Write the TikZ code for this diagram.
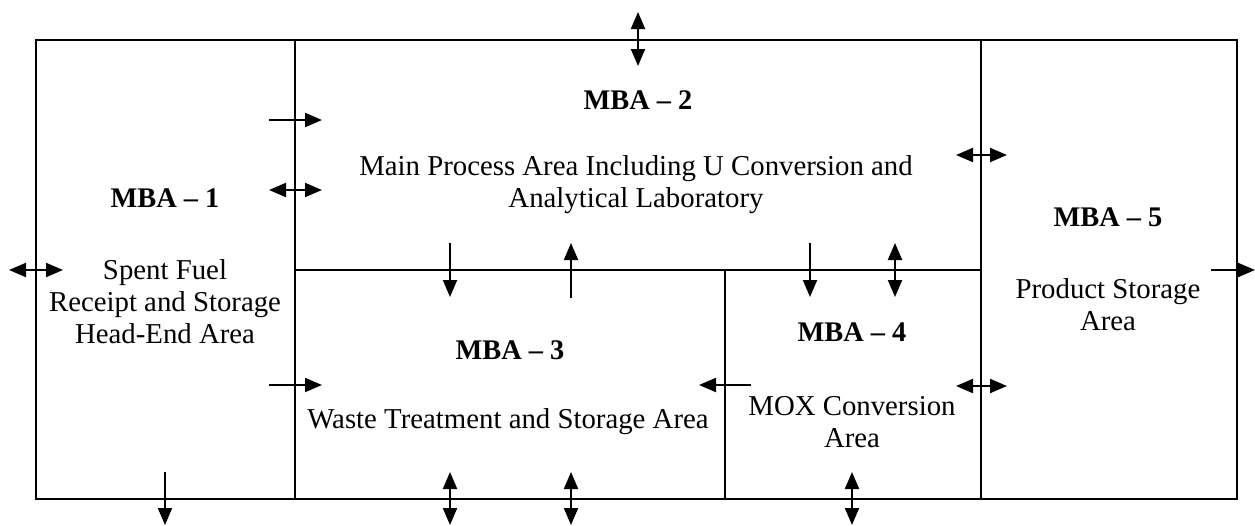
\documentclass[tikz,border=0pt]{standalone}
\usepackage{fontspec}
\setmainfont{Liberation Serif}
\usetikzlibrary{arrows.meta}
\begin{document}
\begin{tikzpicture}[x=1pt,y=-1pt,
  wall/.style={line width=2.2pt, line cap=rect},
  flow/.style={line width=2pt, -{Triangle[length=17pt,width=14pt]}},
  flow2/.style={line width=2pt, {Triangle[length=17pt,width=14pt]}-{Triangle[length=17pt,width=14pt]}},
  lbl/.style={inner sep=0pt, align=center, font=\fontsize{28.8}{32}\selectfont},
  ttl/.style={inner sep=0pt, font=\fontsize{28.4}{32}\selectfont\bfseries}]
\useasboundingbox (0,0) rectangle (1255,525);
% walls
\draw[wall] (36,40) rectangle (1237,499);
\draw[wall] (295,40) -- (295,499);
\draw[wall] (981,40) -- (981,499);
\draw[wall] (295,270) -- (981,270);
\draw[wall] (725,270) -- (725,499);
% texts
\node[ttl] (t1) at (165,198) {MBA -- 1};
\node[lbl] (d1) at (165,302) {Spent Fuel\\Receipt and Storage\\Head-End Area};
\node[ttl] (t2) at (638,100) {MBA -- 2};
\node[lbl] (d2) at (636,185) {Main Process Area Including U Conversion and\\Analytical Laboratory};
\node[ttl] (t3) at (510,350) {MBA -- 3};
\node[lbl] (d3) at (508,422) {Waste Treatment and Storage Area};
\node[ttl] (t4) at (852,332) {MBA -- 4};
\node[lbl] (d4) at (852,422) {MOX Conversion\\Area};
\node[ttl] (t5) at (1108,217) {MBA -- 5};
\node[lbl] (d5) at (1108,305) {Product Storage\\Area};
% arrow end points
\coordinate (a1s) at (638,12);   \coordinate (a1e) at (638,66);
\coordinate (a2s) at (269,120);  \coordinate (a2e) at (322,120);
\coordinate (a3s) at (269,190);  \coordinate (a3e) at (322,190);
\coordinate (a4s) at (9,270);    \coordinate (a4e) at (63,270);
\coordinate (a5s) at (269,385);  \coordinate (a5e) at (322,385);
\coordinate (a6s) at (165,472);  \coordinate (a6e) at (165,525);
\coordinate (a7s) at (450,243);  \coordinate (a7e) at (450,297);
\coordinate (a8s) at (571,298);  \coordinate (a8e) at (571,243);
\coordinate (a9s) at (810,243);  \coordinate (a9e) at (810,297);
\coordinate (a10s) at (895,243); \coordinate (a10e) at (895,297);
\coordinate (a11s) at (956,155); \coordinate (a11e) at (1007,155);
\coordinate (a12s) at (956,386); \coordinate (a12e) at (1007,386);
\coordinate (a13s) at (1211,270);\coordinate (a13e) at (1255,270);
\coordinate (a14s) at (751,385); \coordinate (a14e) at (699,385);
\coordinate (a15s) at (450,472); \coordinate (a15e) at (450,525);
\coordinate (a16s) at (571,472); \coordinate (a16e) at (571,525);
\coordinate (a17s) at (852,472); \coordinate (a17e) at (852,525);
% arrows
\draw[flow2] (a1s) -- (a1e);
\draw[flow] (a2s) -- (a2e);
\draw[flow2] (a3s) -- (a3e);
\draw[flow2] (a4s) -- (a4e);
\draw[flow] (a5s) -- (a5e);
\draw[flow] (a6s) -- (a6e);
\draw[flow] (a7s) -- (a7e);
\draw[flow] (a8s) -- (a8e);
\draw[flow] (a9s) -- (a9e);
\draw[flow2] (a10s) -- (a10e);
\draw[flow2] (a11s) -- (a11e);
\draw[flow2] (a12s) -- (a12e);
\draw[flow] (a13s) -- (a13e);
\draw[flow] (a14s) -- (a14e);
\draw[flow2] (a15s) -- (a15e);
\draw[flow2] (a16s) -- (a16e);
\draw[flow2] (a17s) -- (a17e);
\end{tikzpicture}
\end{document}
